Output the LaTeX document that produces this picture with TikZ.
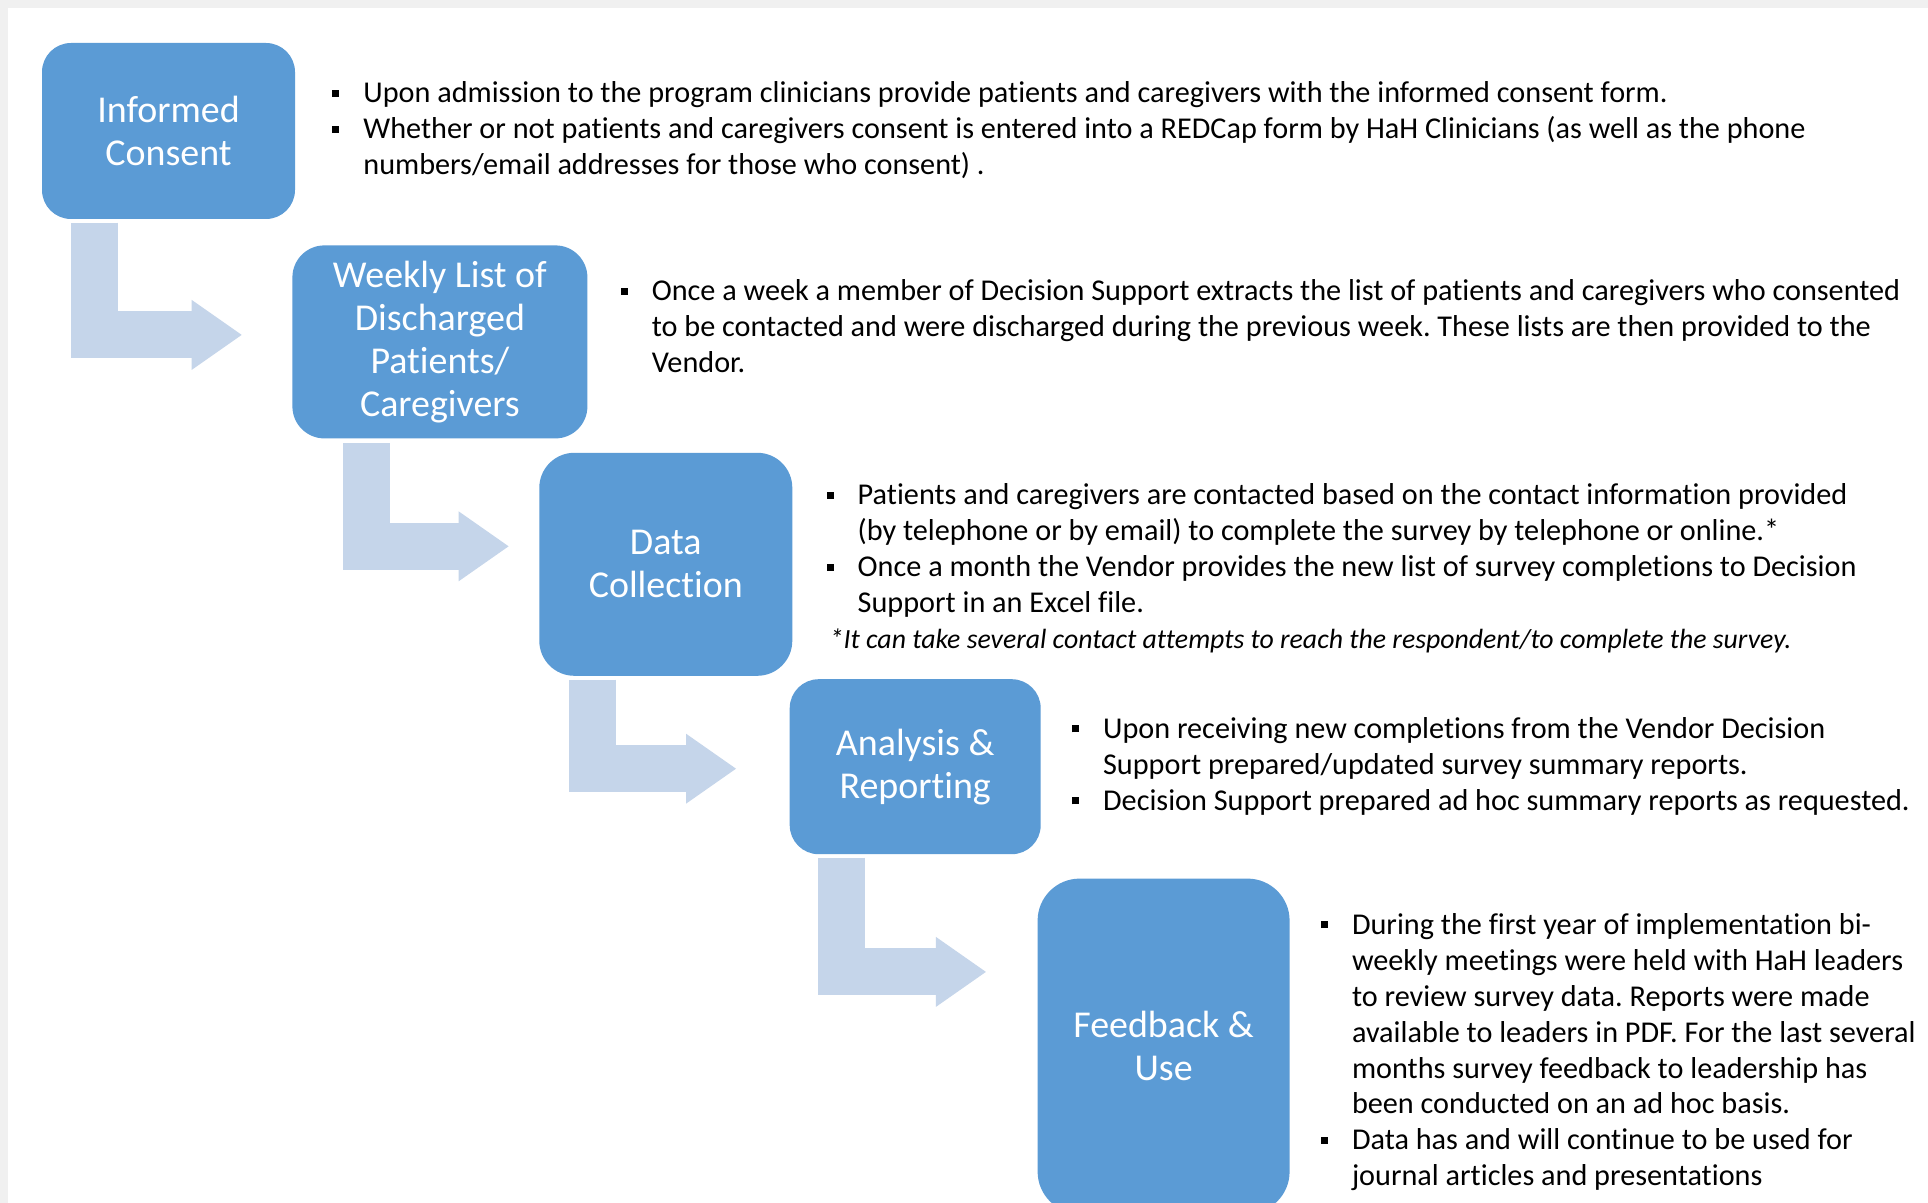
\documentclass[tikz,border=0pt]{standalone}
\usepackage{fontspec}
\setmainfont{Carlito}[Ligatures=NoCommon]
\usetikzlibrary{positioning,arrows.meta}

\definecolor{stageblue}{RGB}{91,155,213}
\definecolor{flowblue}{RGB}{197,213,234}
\definecolor{pagegray}{RGB}{240,240,240}

% square bullet and hanging indent for the notes
\newcommand{\sq}{\makebox[3.1mm][l]{\rule[0.6mm]{0.7mm}{0.7mm}}}
\newcommand{\ind}{\hspace*{3.1mm}}
\frenchspacing

\begin{document}
\begin{tikzpicture}[x=0.1mm, y=-0.1mm,
                    stage node/.style={rectangle, rounded corners=2.9mm, fill=stageblue, text=white,
                                       inner sep=0pt, align=center, font=\fontsize{10.8}{12.2}\selectfont},
                    note node/.style={inner sep=0pt, align=left, font=\fontsize{8.6}{10.24}\selectfont},
                    flow/.style={draw=flowblue, line width=4.7mm, line join=miter,
                                 -{Triangle[width=7mm, length=5mm, line width=0pt]}}]

      \useasboundingbox (0,0) rectangle (1928,1203);
      \fill[pagegray] (0,0) rectangle (1928,1203);
      \fill[white] (8,8) rectangle (1928,1203);

      \node[stage node, minimum width=25.3mm, minimum height=17.6mm] (1) at (168.5,131) {Informed\\Consent};
      \node[stage node, minimum width=29.5mm, minimum height=19.3mm, rounded corners=3.2mm] (2) [below right=2.5mm and -0.4mm of 1] {Weekly List of\\Discharged\\Patients/\\Caregivers};
      \node[stage node, minimum width=25.3mm, minimum height=22.3mm, rounded corners=3.5mm] (3) [below right=1.3mm and -4.95mm of 2] {Data\\Collection};
      \node[stage node, minimum width=25.1mm, minimum height=17.5mm] (4) [below right=0.2mm and -0.4mm of 3] {Analysis \&\\Reporting};
      \node[stage node, minimum width=25.2mm, minimum height=33.5mm, rounded corners=4.2mm] (5) [below right=2.3mm and -0.45mm of 4] {Feedback \&\\Use};

      \node[note node] (n1) [right=3.6mm of 1, yshift=0.05mm]
        {\sq Upon admission to the program clinicians provide patients and caregivers with the informed consent form.\\
         \sq Whether or not patients and caregivers consent is entered into a REDCap form by HaH Clinicians (as well as the phone\\
         \ind numbers/email addresses for those who consent) .};
      \node[note node] (n2) [right=3.2mm of 2, yshift=1.55mm]
        {\sq Once a week a member of Decision Support extracts the list of patients and caregivers who consented\\
         \ind to be contacted and were discharged during the previous week. These lists are then provided to the\\
         \ind Vendor.};
      \node[note node] (n3) [right=3.3mm of 3, yshift=-0.4mm]
        {\sq Patients and caregivers are contacted based on the contact information provided\\
         \ind (by telephone or by email) to complete the survey by telephone or online.*\\
         \sq Once a month the Vendor provides the new list of survey completions to Decision\\
         \ind Support in an Excel file.\\
         \hspace*{0.3mm}{\fontsize{7.9}{10.24}\selectfont\itshape *It can take several contact attempts to reach the respondent/to complete the survey.}};
      \node[note node] (n4) [right=3.0mm of 4, yshift=0.05mm]
        {\sq Upon receiving new completions from the Vendor Decision\\
         \ind Support prepared/updated survey summary reports.\\
         \sq Decision Support prepared ad hoc summary reports as requested.};
      \node[note node] (n5) [right=3.0mm of 5, yshift=-0.6mm]
        {\sq During the first year of implementation bi-\\
         \ind weekly meetings were held with HaH leaders\\
         \ind to review survey data. Reports were made\\
         \ind available to leaders in PDF. For the last several\\
         \ind months survey feedback to leadership has\\
         \ind been conducted on an ad hoc basis.\\
         \sq Data has and will continue to be used for\\
         \ind journal articles and presentations};

      \draw[flow] ([xshift=5.35mm, yshift=-0.3mm]1.south west) |- ([xshift=-5mm, yshift=0.7mm]2.west);
      \draw[flow] ([xshift=7.45mm, yshift=-0.4mm]2.south west) |- ([xshift=-3mm, yshift=1.8mm]3.west);
      \draw[flow] ([xshift=5.4mm, yshift=-0.3mm]3.south west) |- ([xshift=-5.3mm, yshift=-0.2mm]4.west);
      \draw[flow] ([xshift=5.2mm, yshift=-0.3mm]4.south west) |- ([xshift=-5.1mm, yshift=-9.4mm]5.north west);

    \end{tikzpicture}
\end{document}
